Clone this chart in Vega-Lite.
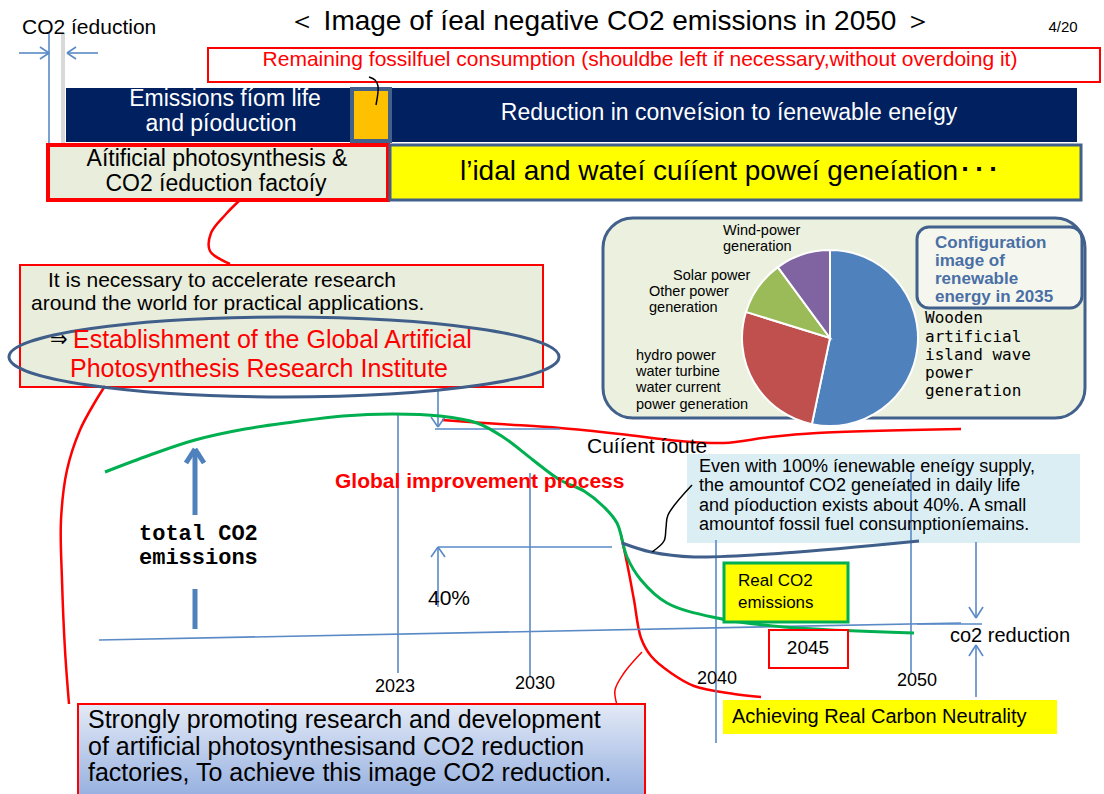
{
"$schema":"https://vega.github.io/schema/vega-lite/v6.json",
"width":1104,"height":794,"padding":0,
"autosize":{"type":"none"},
"background":"white",
"config":{"view":{"stroke":null}},
"datasets":{
"boxes":[
{"id":"remaining","x":208,"x2":1100,"y":48,"y2":82},
{"id":"navy","x":66,"x2":1077,"y":88,"y2":142},
{"id":"orange","x":352,"x2":390,"y":89,"y2":141},
{"id":"beigeTop","x":48,"x2":388,"y":145,"y2":200},
{"id":"yellowTop","x":390,"x2":1081,"y":145,"y2":200},
{"id":"redText","x":20,"x2":543,"y":265,"y2":387},
{"id":"panel","x":603,"x2":1085,"y":218,"y2":418},
{"id":"config","x":917,"x2":1082,"y":227,"y2":308},
{"id":"lightblue","x":687,"x2":1080,"y":454,"y2":543},
{"id":"real","x":724,"x2":848,"y":563,"y2":622},
{"id":"b2045","x":769,"x2":848,"y":630,"y2":668},
{"id":"ach","x":723,"x2":1057,"y":700,"y2":734},
{"id":"bottom","x":78,"x2":645,"y":704,"y2":800}
],
"curves":[
{"c":"topconn","i":0,"x":240,"y":200},{"c":"topconn","i":1,"x":226,"y":214},{"c":"topconn","i":2,"x":211,"y":233},{"c":"topconn","i":3,"x":210,"y":251},{"c":"topconn","i":4,"x":230,"y":264},
{"c":"leftlong","i":0,"x":105,"y":386},{"c":"leftlong","i":1,"x":95,"y":402},{"c":"leftlong","i":2,"x":80,"y":430},{"c":"leftlong","i":3,"x":67,"y":470},{"c":"leftlong","i":4,"x":61,"y":520},{"c":"leftlong","i":5,"x":62,"y":580},{"c":"leftlong","i":6,"x":65,"y":650},{"c":"leftlong","i":7,"x":69,"y":704},
{"c":"route","i":0,"x":442,"y":420},{"c":"route","i":1,"x":500,"y":424},{"c":"route","i":2,"x":560,"y":428},{"c":"route","i":3,"x":620,"y":434},{"c":"route","i":4,"x":680,"y":441},{"c":"route","i":5,"x":724,"y":443},{"c":"route","i":6,"x":770,"y":437},{"c":"route","i":7,"x":817,"y":433},{"c":"route","i":8,"x":961,"y":429},
{"c":"neutral","i":0,"x":621,"y":535},{"c":"neutral","i":1,"x":628,"y":568},{"c":"neutral","i":2,"x":634,"y":600},{"c":"neutral","i":3,"x":641,"y":638},{"c":"neutral","i":4,"x":651,"y":656},{"c":"neutral","i":5,"x":671,"y":673},{"c":"neutral","i":6,"x":694,"y":686},{"c":"neutral","i":7,"x":734,"y":694},{"c":"neutral","i":8,"x":761,"y":697},
{"c":"bottomconn","i":0,"x":617,"y":705},{"c":"bottomconn","i":1,"x":615,"y":690},{"c":"bottomconn","i":2,"x":624,"y":673},{"c":"bottomconn","i":3,"x":642,"y":652},
{"c":"green","i":0,"x":105,"y":472},{"c":"green","i":1,"x":150,"y":455},{"c":"green","i":2,"x":195,"y":440},{"c":"green","i":3,"x":245,"y":429},{"c":"green","i":4,"x":293,"y":422},{"c":"green","i":5,"x":343,"y":416},{"c":"green","i":6,"x":393,"y":414},{"c":"green","i":7,"x":440,"y":416},{"c":"green","i":8,"x":477,"y":423},{"c":"green","i":9,"x":503,"y":437},{"c":"green","i":10,"x":533,"y":460},{"c":"green","i":11,"x":560,"y":480},{"c":"green","i":12,"x":584,"y":491},{"c":"green","i":13,"x":604,"y":507},{"c":"green","i":14,"x":617,"y":523},{"c":"green","i":15,"x":627,"y":557},{"c":"green","i":16,"x":641,"y":580},{"c":"green","i":17,"x":667,"y":603},{"c":"green","i":18,"x":717,"y":618},{"c":"green","i":19,"x":784,"y":627},{"c":"green","i":20,"x":914,"y":633},
{"c":"darkblue","i":0,"x":622,"y":543},{"c":"darkblue","i":1,"x":651,"y":552},{"c":"darkblue","i":2,"x":694,"y":557},{"c":"darkblue","i":3,"x":784,"y":553},{"c":"darkblue","i":4,"x":919,"y":541},
{"c":"hook","i":0,"x":369,"y":77},{"c":"hook","i":1,"x":375,"y":80},{"c":"hook","i":2,"x":378,"y":86},{"c":"hook","i":3,"x":376,"y":105},
{"c":"connector","i":0,"x":652,"y":552},{"c":"connector","i":1,"x":664,"y":541},{"c":"connector","i":2,"x":666,"y":528},{"c":"connector","i":3,"x":668,"y":515},{"c":"connector","i":4,"x":692,"y":485}
],
"thin":[
{"x":49,"y":33,"x2":49,"y2":143},{"x":19,"y":53,"x2":49,"y2":53},{"x":40,"y":47,"x2":49,"y2":53},{"x":40,"y":59,"x2":49,"y2":53},
{"x":98,"y":53,"x2":67,"y2":53},{"x":76,"y":47,"x2":67,"y2":53},{"x":76,"y":59,"x2":67,"y2":53},
{"x":398,"y":415,"x2":398,"y2":673},{"x":530,"y":473,"x2":530,"y2":677},{"x":716,"y":540,"x2":716,"y2":743},{"x":911,"y":472,"x2":911,"y2":673},
{"x":99,"y":640,"x2":961,"y2":623},{"x":917,"y":624,"x2":982,"y2":624},
{"x":438,"y":390,"x2":438,"y2":427},{"x":431,"y":417,"x2":438,"y2":427},{"x":445,"y":417,"x2":438,"y2":427},{"x":435,"y":429,"x2":560,"y2":429},
{"x":438,"y":607,"x2":438,"y2":547},{"x":431,"y":557,"x2":438,"y2":547},{"x":445,"y":557,"x2":438,"y2":547},{"x":438,"y":547,"x2":612,"y2":547},
{"x":976,"y":542,"x2":976,"y2":618},{"x":969,"y":607,"x2":976,"y2":618},{"x":983,"y":607,"x2":976,"y2":618},
{"x":976,"y":697,"x2":976,"y2":645},{"x":969,"y":656,"x2":976,"y2":645},{"x":983,"y":656,"x2":976,"y2":645}
],
"thick":[
{"x":195,"y":515,"x2":195,"y2":450},{"x":186,"y":463,"x2":195,"y2":449},{"x":204,"y":463,"x2":195,"y2":449},{"x":195,"y":589,"x2":195,"y2":629}
],
"grey":[{"x":63,"y":33,"x2":63,"y2":143}],
"ellipse":[{"x":284,"y":357}],
"pie":[
{"k":1,"name":"Wooden artificial island wave power generation","v":53.3},
{"k":2,"name":"hydro power water turbine water current power generation","v":26.5},
{"k":3,"name":"Solar power / Other power generation","v":10.1},
{"k":4,"name":"Wind-power generation","v":10.1}
],
"texts":[
{"g":"title","t":"＜ Image of íeal negative CO2 emissions in 2050 ＞","x":610,"y":22},
{"g":"page","t":"4/20","x":1063,"y":27},
{"g":"co2red","t":"CO2 íeduction","x":22,"y":28},
{"g":"remaining","t":"Remaining fossilfuel consumption (shouldbe left if necessary,without overdoing it)","x":640,"y":60},
{"g":"navy","t":"Emissions fíom life","x":225,"y":99},
{"g":"navy","t":"and  píoduction","x":221,"y":124},
{"g":"navy","t":"Reduction in conveísion to íenewable eneígy","x":729,"y":113},
{"g":"beige","t":"Aítificial photosynthesis &","x":217,"y":159},
{"g":"beige","t":"CO2 íeduction factoíy","x":216,"y":184},
{"g":"tidal","t":"l’idal  and wateí cuííent poweí geneíation･･･","x":730,"y":172},
{"g":"acc","t":"It is necessary to accelerate research","x":48,"y":281},
{"g":"acc","t":"around the world for practical applications.","x":31,"y":304},
{"g":"arrow","t":"⇒","x":50,"y":340},
{"g":"inst","t":"Establishment of the Global Artificial","x":73,"y":340},
{"g":"inst","t":"Photosynthesis Research Institute","x":70,"y":369},
{"g":"total","t":"total CO2","x":139,"y":533},
{"g":"total","t":"emissions","x":139,"y":557},
{"g":"global","t":"Global improvement process","x":335,"y":482},
{"g":"plain20","t":"Cuííent íoute","x":587,"y":447},
{"g":"plain20","t":"40%","x":428,"y":599},
{"g":"year","t":"2023","x":395,"y":687},
{"g":"year","t":"2030","x":535,"y":684},
{"g":"year","t":"2040","x":717,"y":679},
{"g":"year","t":"2050","x":917,"y":681},
{"g":"even","t":"Even with 100% íenewable eneígy  supply,","x":699,"y":467},
{"g":"even","t":"the amountof CO2 geneíated  in daily life","x":699,"y":486},
{"g":"even","t":"and píoduction exists about 40%.  A small","x":699,"y":506},
{"g":"even","t":"amountof fossil fuel consumptioníemains.","x":699,"y":525},
{"g":"real","t":"Real CO2","x":738,"y":581},
{"g":"real","t":"emissions","x":738,"y":603},
{"g":"y2045","t":"2045","x":808,"y":648},
{"g":"co2r","t":"co2 reduction","x":950,"y":636},
{"g":"ach","t":"Achieving Real Carbon Neutrality","x":732,"y":717},
{"g":"bottom","t":"Strongly promoting research and development","x":88,"y":720},
{"g":"bottom","t":"of artificial photosynthesisand CO2 reduction","x":88,"y":747},
{"g":"bottom","t":"factories, To achieve this image CO2 reduction.","x":88,"y":773},
{"g":"pielab","t":"Wind-power","x":723,"y":231},
{"g":"pielab","t":"generation","x":723,"y":247},
{"g":"pielab","t":"Solar power","x":673,"y":276},
{"g":"pielab","t":"Other power","x":649,"y":292},
{"g":"pielab","t":"generation","x":649,"y":308},
{"g":"pielab","t":"hydro power","x":636,"y":356},
{"g":"pielab","t":"water turbine","x":636,"y":372},
{"g":"pielab","t":"water current","x":636,"y":388},
{"g":"pielab","t":"power generation","x":636,"y":405},
{"g":"wooden","t":"Wooden","x":925,"y":318},
{"g":"wooden","t":"artificial","x":925,"y":337},
{"g":"wooden","t":"island wave","x":925,"y":355},
{"g":"wooden","t":"power","x":925,"y":373},
{"g":"wooden","t":"generation","x":925,"y":391},
{"g":"config","t":"Configuration","x":935,"y":243},
{"g":"config","t":"image of","x":935,"y":261},
{"g":"config","t":"renewable","x":935,"y":279},
{"g":"config","t":"energy in 2035","x":935,"y":297}
]
},
"layer":[
{"data":{"name":"boxes"},"transform":[{"filter":"datum.id=='remaining'"}],"mark":{"type":"rect","fill":"white","stroke":"#FF0000","strokeWidth":2},
 "encoding":{"x":{"field":"x","type":"quantitative","scale":{"domain":[0,1104],"nice":false,"zero":false},"axis":null},"x2":{"field":"x2"},"y":{"field":"y","type":"quantitative","scale":{"domain":[0,794],"nice":false,"zero":false,"reverse":true},"axis":null},"y2":{"field":"y2"}}},
{"data":{"name":"boxes"},"transform":[{"filter":"datum.id=='navy'"}],"mark":{"type":"rect","fill":"#002060"},
 "encoding":{"x":{"field":"x","type":"quantitative","axis":null},"x2":{"field":"x2"},"y":{"field":"y","type":"quantitative","axis":null},"y2":{"field":"y2"}}},
{"data":{"name":"boxes"},"transform":[{"filter":"datum.id=='orange'"}],"mark":{"type":"rect","fill":"#FFC000","stroke":"#41608C","strokeWidth":4},
 "encoding":{"x":{"field":"x","type":"quantitative","axis":null},"x2":{"field":"x2"},"y":{"field":"y","type":"quantitative","axis":null},"y2":{"field":"y2"}}},
{"data":{"name":"boxes"},"transform":[{"filter":"datum.id=='beigeTop'"}],"mark":{"type":"rect","fill":"#E9EDDC","stroke":"#FF0000","strokeWidth":4},
 "encoding":{"x":{"field":"x","type":"quantitative","axis":null},"x2":{"field":"x2"},"y":{"field":"y","type":"quantitative","axis":null},"y2":{"field":"y2"}}},
{"data":{"name":"boxes"},"transform":[{"filter":"datum.id=='yellowTop'"}],"mark":{"type":"rect","fill":"#FFFF00","stroke":"#41608C","strokeWidth":3},
 "encoding":{"x":{"field":"x","type":"quantitative","axis":null},"x2":{"field":"x2"},"y":{"field":"y","type":"quantitative","axis":null},"y2":{"field":"y2"}}},
{"data":{"name":"boxes"},"transform":[{"filter":"datum.id=='redText'"}],"mark":{"type":"rect","fill":"#E9EDDC","stroke":"#FF0000","strokeWidth":2},
 "encoding":{"x":{"field":"x","type":"quantitative","axis":null},"x2":{"field":"x2"},"y":{"field":"y","type":"quantitative","axis":null},"y2":{"field":"y2"}}},
{"data":{"name":"boxes"},"transform":[{"filter":"datum.id=='panel'"}],"mark":{"type":"rect","fill":"#EBF0DF","stroke":"#41608C","strokeWidth":3,"cornerRadius":30},
 "encoding":{"x":{"field":"x","type":"quantitative","axis":null},"x2":{"field":"x2"},"y":{"field":"y","type":"quantitative","axis":null},"y2":{"field":"y2"}}},
{"data":{"name":"boxes"},"transform":[{"filter":"datum.id=='config'"}],"mark":{"type":"rect","fill":"#F5F7EF","stroke":"#41608C","strokeWidth":3,"cornerRadius":12},
 "encoding":{"x":{"field":"x","type":"quantitative","axis":null},"x2":{"field":"x2"},"y":{"field":"y","type":"quantitative","axis":null},"y2":{"field":"y2"}}},
{"data":{"name":"pie"},"mark":{"type":"arc","outerRadius":88,"stroke":"white","strokeWidth":2},
 "encoding":{"theta":{"field":"v","type":"quantitative","stack":true},"order":{"field":"k","type":"quantitative"},
  "color":{"field":"name","type":"nominal","legend":null,"scale":{"domain":["Wooden artificial island wave power generation","hydro power water turbine water current power generation","Solar power / Other power generation","Wind-power generation"],"range":["#4F81BD","#C0504D","#9BBB59","#8064A2"]}},
  "x":{"datum":830,"type":"quantitative","axis":null},"y":{"datum":338,"type":"quantitative","axis":null}}},
{"data":{"name":"grey"},"mark":{"type":"rule","color":"#D9D9D9","strokeWidth":4},
 "encoding":{"x":{"field":"x","type":"quantitative","axis":null},"x2":{"field":"x2"},"y":{"field":"y","type":"quantitative","axis":null},"y2":{"field":"y2"}}},
{"data":{"name":"boxes"},"transform":[{"filter":"datum.id=='lightblue'"}],"mark":{"type":"rect","fill":"#DBEEF4"},
 "encoding":{"x":{"field":"x","type":"quantitative","axis":null},"x2":{"field":"x2"},"y":{"field":"y","type":"quantitative","axis":null},"y2":{"field":"y2"}}},
{"data":{"name":"curves"},"transform":[{"filter":{"field":"c","oneOf":["topconn","leftlong","route","neutral"]}}],"mark":{"type":"line","interpolate":"catmull-rom","color":"#FF0000","strokeWidth":2.5},
 "encoding":{"x":{"field":"x","type":"quantitative","axis":null},"y":{"field":"y","type":"quantitative","axis":null},"detail":{"field":"c"},"order":{"field":"i","type":"quantitative"}}},
{"data":{"name":"thin"},"mark":{"type":"rule","color":"#5A8AC6","strokeWidth":1.6},
 "encoding":{"x":{"field":"x","type":"quantitative","axis":null},"x2":{"field":"x2"},"y":{"field":"y","type":"quantitative","axis":null},"y2":{"field":"y2"}}},
{"data":{"name":"curves"},"transform":[{"filter":"datum.c=='green'"}],"mark":{"type":"line","interpolate":"catmull-rom","color":"#00B050","strokeWidth":3},
 "encoding":{"x":{"field":"x","type":"quantitative","axis":null},"y":{"field":"y","type":"quantitative","axis":null},"order":{"field":"i","type":"quantitative"}}},
{"data":{"name":"curves"},"transform":[{"filter":"datum.c=='darkblue'"}],"mark":{"type":"line","interpolate":"catmull-rom","color":"#3F5F8A","strokeWidth":3},
 "encoding":{"x":{"field":"x","type":"quantitative","axis":null},"y":{"field":"y","type":"quantitative","axis":null},"order":{"field":"i","type":"quantitative"}}},
{"data":{"name":"curves"},"transform":[{"filter":{"field":"c","oneOf":["hook","connector"]}}],"mark":{"type":"line","interpolate":"catmull-rom","color":"#000000","strokeWidth":1.5},
 "encoding":{"x":{"field":"x","type":"quantitative","axis":null},"y":{"field":"y","type":"quantitative","axis":null},"detail":{"field":"c"},"order":{"field":"i","type":"quantitative"}}},
{"data":{"name":"thick"},"mark":{"type":"rule","color":"#4F81BD","strokeWidth":5},
 "encoding":{"x":{"field":"x","type":"quantitative","axis":null},"x2":{"field":"x2"},"y":{"field":"y","type":"quantitative","axis":null},"y2":{"field":"y2"}}},
{"data":{"name":"boxes"},"transform":[{"filter":"datum.id=='real'"}],"mark":{"type":"rect","fill":"#FFFF00","stroke":"#00B050","strokeWidth":3},
 "encoding":{"x":{"field":"x","type":"quantitative","axis":null},"x2":{"field":"x2"},"y":{"field":"y","type":"quantitative","axis":null},"y2":{"field":"y2"}}},
{"data":{"name":"boxes"},"transform":[{"filter":"datum.id=='b2045'"}],"mark":{"type":"rect","fill":"white","stroke":"#FF0000","strokeWidth":2},
 "encoding":{"x":{"field":"x","type":"quantitative","axis":null},"x2":{"field":"x2"},"y":{"field":"y","type":"quantitative","axis":null},"y2":{"field":"y2"}}},
{"data":{"name":"boxes"},"transform":[{"filter":"datum.id=='ach'"}],"mark":{"type":"rect","fill":"#FFFF00"},
 "encoding":{"x":{"field":"x","type":"quantitative","axis":null},"x2":{"field":"x2"},"y":{"field":"y","type":"quantitative","axis":null},"y2":{"field":"y2"}}},
{"data":{"name":"boxes"},"transform":[{"filter":"datum.id=='bottom'"}],"mark":{"type":"rect","stroke":"#FF0000","strokeWidth":2,"fill":{"gradient":"linear","x1":0,"y1":0,"x2":0,"y2":1,"stops":[{"offset":0,"color":"#E4EAF6"},{"offset":1,"color":"#93AEDF"}]}},
 "encoding":{"x":{"field":"x","type":"quantitative","axis":null},"x2":{"field":"x2"},"y":{"field":"y","type":"quantitative","axis":null},"y2":{"field":"y2"}}},
{"data":{"name":"curves"},"transform":[{"filter":"datum.c=='bottomconn'"}],"mark":{"type":"line","interpolate":"catmull-rom","color":"#FF0000","strokeWidth":1.5},
 "encoding":{"x":{"field":"x","type":"quantitative","axis":null},"y":{"field":"y","type":"quantitative","axis":null},"order":{"field":"i","type":"quantitative"}}},
{"data":{"name":"ellipse"},"mark":{"type":"point","filled":false,"stroke":"#3F5F8A","strokeWidth":3,"opacity":1,"size":302500,"shape":"M -1 0 C -1 -0.0804 -0.5523 -0.1455 0 -0.1455 C 0.5523 -0.1455 1 -0.0804 1 0 C 1 0.0804 0.5523 0.1455 0 0.1455 C -0.5523 0.1455 -1 0.0804 -1 0 Z"},
 "encoding":{"x":{"field":"x","type":"quantitative","axis":null},"y":{"field":"y","type":"quantitative","axis":null}}},
{"data":{"name":"texts"},"transform":[{"filter":"datum.g=='title'"}],"mark":{"type":"text","font":"Liberation Sans","fontSize":28,"align":"center","baseline":"middle","color":"#000"},"encoding":{"x":{"field":"x","type":"quantitative","axis":null},"y":{"field":"y","type":"quantitative","axis":null},"text":{"field":"t"}}},
{"data":{"name":"texts"},"transform":[{"filter":"datum.g=='page'"}],"mark":{"type":"text","font":"Liberation Sans","fontSize":15,"align":"center","baseline":"middle","color":"#000"},"encoding":{"x":{"field":"x","type":"quantitative","axis":null},"y":{"field":"y","type":"quantitative","axis":null},"text":{"field":"t"}}},
{"data":{"name":"texts"},"transform":[{"filter":"datum.g=='co2red'"}],"mark":{"type":"text","font":"Liberation Sans","fontSize":21,"align":"left","baseline":"middle","color":"#000"},"encoding":{"x":{"field":"x","type":"quantitative","axis":null},"y":{"field":"y","type":"quantitative","axis":null},"text":{"field":"t"}}},
{"data":{"name":"texts"},"transform":[{"filter":"datum.g=='remaining'"}],"mark":{"type":"text","font":"Liberation Sans","fontSize":21,"align":"center","baseline":"middle","color":"#FF0000"},"encoding":{"x":{"field":"x","type":"quantitative","axis":null},"y":{"field":"y","type":"quantitative","axis":null},"text":{"field":"t"}}},
{"data":{"name":"texts"},"transform":[{"filter":"datum.g=='navy'"}],"mark":{"type":"text","font":"Liberation Sans","fontSize":23,"align":"center","baseline":"middle","color":"#FFFFFF"},"encoding":{"x":{"field":"x","type":"quantitative","axis":null},"y":{"field":"y","type":"quantitative","axis":null},"text":{"field":"t"}}},
{"data":{"name":"texts"},"transform":[{"filter":"datum.g=='beige'"}],"mark":{"type":"text","font":"Liberation Sans","fontSize":23,"align":"center","baseline":"middle","color":"#000"},"encoding":{"x":{"field":"x","type":"quantitative","axis":null},"y":{"field":"y","type":"quantitative","axis":null},"text":{"field":"t"}}},
{"data":{"name":"texts"},"transform":[{"filter":"datum.g=='tidal'"}],"mark":{"type":"text","font":"Liberation Sans","fontSize":28,"align":"center","baseline":"middle","color":"#000"},"encoding":{"x":{"field":"x","type":"quantitative","axis":null},"y":{"field":"y","type":"quantitative","axis":null},"text":{"field":"t"}}},
{"data":{"name":"texts"},"transform":[{"filter":"datum.g=='acc'"}],"mark":{"type":"text","font":"Liberation Sans","fontSize":21,"align":"left","baseline":"middle","color":"#000"},"encoding":{"x":{"field":"x","type":"quantitative","axis":null},"y":{"field":"y","type":"quantitative","axis":null},"text":{"field":"t"}}},
{"data":{"name":"texts"},"transform":[{"filter":"datum.g=='arrow'"}],"mark":{"type":"text","font":"DejaVu Sans","fontSize":21,"align":"left","baseline":"middle","color":"#000"},"encoding":{"x":{"field":"x","type":"quantitative","axis":null},"y":{"field":"y","type":"quantitative","axis":null},"text":{"field":"t"}}},
{"data":{"name":"texts"},"transform":[{"filter":"datum.g=='inst'"}],"mark":{"type":"text","font":"Liberation Sans","fontSize":25,"align":"left","baseline":"middle","color":"#FF0000"},"encoding":{"x":{"field":"x","type":"quantitative","axis":null},"y":{"field":"y","type":"quantitative","axis":null},"text":{"field":"t"}}},
{"data":{"name":"texts"},"transform":[{"filter":"datum.g=='total'"}],"mark":{"type":"text","font":"Liberation Mono","fontSize":22,"fontWeight":"bold","align":"left","baseline":"middle","color":"#000"},"encoding":{"x":{"field":"x","type":"quantitative","axis":null},"y":{"field":"y","type":"quantitative","axis":null},"text":{"field":"t"}}},
{"data":{"name":"texts"},"transform":[{"filter":"datum.g=='global'"}],"mark":{"type":"text","font":"Liberation Sans","fontSize":21,"fontWeight":"bold","align":"left","baseline":"middle","color":"#FF0000"},"encoding":{"x":{"field":"x","type":"quantitative","axis":null},"y":{"field":"y","type":"quantitative","axis":null},"text":{"field":"t"}}},
{"data":{"name":"texts"},"transform":[{"filter":"datum.g=='plain20'"}],"mark":{"type":"text","font":"Liberation Sans","fontSize":21,"align":"left","baseline":"middle","color":"#000"},"encoding":{"x":{"field":"x","type":"quantitative","axis":null},"y":{"field":"y","type":"quantitative","axis":null},"text":{"field":"t"}}},
{"data":{"name":"texts"},"transform":[{"filter":"datum.g=='year'"}],"mark":{"type":"text","font":"Liberation Sans","fontSize":18,"align":"center","baseline":"middle","color":"#000"},"encoding":{"x":{"field":"x","type":"quantitative","axis":null},"y":{"field":"y","type":"quantitative","axis":null},"text":{"field":"t"}}},
{"data":{"name":"texts"},"transform":[{"filter":"datum.g=='even'"}],"mark":{"type":"text","font":"Liberation Sans","fontSize":18,"align":"left","baseline":"middle","color":"#000"},"encoding":{"x":{"field":"x","type":"quantitative","axis":null},"y":{"field":"y","type":"quantitative","axis":null},"text":{"field":"t"}}},
{"data":{"name":"texts"},"transform":[{"filter":"datum.g=='real'"}],"mark":{"type":"text","font":"Liberation Sans","fontSize":17,"align":"left","baseline":"middle","color":"#000"},"encoding":{"x":{"field":"x","type":"quantitative","axis":null},"y":{"field":"y","type":"quantitative","axis":null},"text":{"field":"t"}}},
{"data":{"name":"texts"},"transform":[{"filter":"datum.g=='y2045'"}],"mark":{"type":"text","font":"Liberation Sans","fontSize":19,"align":"center","baseline":"middle","color":"#000"},"encoding":{"x":{"field":"x","type":"quantitative","axis":null},"y":{"field":"y","type":"quantitative","axis":null},"text":{"field":"t"}}},
{"data":{"name":"texts"},"transform":[{"filter":"datum.g=='co2r'"}],"mark":{"type":"text","font":"Liberation Sans","fontSize":20,"align":"left","baseline":"middle","color":"#000"},"encoding":{"x":{"field":"x","type":"quantitative","axis":null},"y":{"field":"y","type":"quantitative","axis":null},"text":{"field":"t"}}},
{"data":{"name":"texts"},"transform":[{"filter":"datum.g=='ach'"}],"mark":{"type":"text","font":"Liberation Sans","fontSize":20,"align":"left","baseline":"middle","color":"#000"},"encoding":{"x":{"field":"x","type":"quantitative","axis":null},"y":{"field":"y","type":"quantitative","axis":null},"text":{"field":"t"}}},
{"data":{"name":"texts"},"transform":[{"filter":"datum.g=='bottom'"}],"mark":{"type":"text","font":"Liberation Sans","fontSize":25,"align":"left","baseline":"middle","color":"#000"},"encoding":{"x":{"field":"x","type":"quantitative","axis":null},"y":{"field":"y","type":"quantitative","axis":null},"text":{"field":"t"}}},
{"data":{"name":"texts"},"transform":[{"filter":"datum.g=='pielab'"}],"mark":{"type":"text","font":"Liberation Sans","fontSize":14.5,"align":"left","baseline":"middle","color":"#000"},"encoding":{"x":{"field":"x","type":"quantitative","axis":null},"y":{"field":"y","type":"quantitative","axis":null},"text":{"field":"t"}}},
{"data":{"name":"texts"},"transform":[{"filter":"datum.g=='wooden'"}],"mark":{"type":"text","font":"DejaVu Sans Mono","fontSize":16,"align":"left","baseline":"middle","color":"#000"},"encoding":{"x":{"field":"x","type":"quantitative","axis":null},"y":{"field":"y","type":"quantitative","axis":null},"text":{"field":"t"}}},
{"data":{"name":"texts"},"transform":[{"filter":"datum.g=='config'"}],"mark":{"type":"text","font":"Liberation Sans","fontSize":17,"fontWeight":"bold","align":"left","baseline":"middle","color":"#4A6FA5"},"encoding":{"x":{"field":"x","type":"quantitative","axis":null},"y":{"field":"y","type":"quantitative","axis":null},"text":{"field":"t"}}}
]
}
